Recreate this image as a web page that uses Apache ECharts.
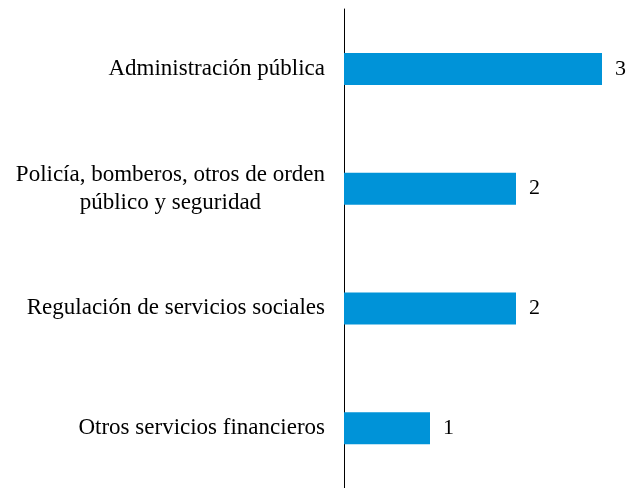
<!DOCTYPE html>
<html>
<head>
<meta charset="utf-8">
<script src="https://cdn.jsdelivr.net/npm/echarts@6/dist/echarts.min.js"></script>
<style>
	html, body { margin: 0; padding: 0; background: #fff; }
	#chart { width: 628px; height: 488px; }
</style>
</head>
<body>
<div id="chart"></div>
<script>
// categories from bottom to top (category axis is drawn upward)
const categories = [
	"Otros servicios financieros",
	"Regulación de servicios sociales",
	"Policía, bomberos, otros de orden\npúblico y seguridad",
	"Administración pública",
];
const values = [1, 2, 2, 3];

const serif = "'Liberation Serif', 'Times New Roman', serif";

const chart = echarts.init(document.getElementById("chart"));

const option = {
	animation: false,
	textStyle: {
		fontFamily: serif,
	},
	grid: {
		left: 344,
		right: 26,
		top: 9,
		height: 483,
	},
	xAxis: {
		type: "value",
		min: 0,
		max: 3,
		show: false,
	},
	yAxis: {
		type: "category",
		data: categories,
		axisLine: {
			show: true,
			lineStyle: { color: "#000", width: 1 },
		},
		axisTick: { show: false },
		axisLabel: {
			margin: 19,
			align: "right",
			// lines of a wrapped label are centred on each other
			formatter: (val) =>
				val
					.split("\n")
					.map((line) => `{c|${line}}`)
					.join("\n"),
			rich: {
				c: {
					align: "center",
					color: "#000",
					fontSize: 23,
					fontFamily: serif,
					lineHeight: 28,
				},
			},
		},
	},
	series: [
		{
			type: "bar",
			data: values,
			barWidth: 32,
			itemStyle: { color: "#0093D8" },
			label: {
				show: true,
				position: "right",
				distance: 13,
				color: "#000",
				fontSize: 22,
				fontFamily: serif,
			},
		},
	],
};

chart.setOption(option);
</script>
</body>
</html>
